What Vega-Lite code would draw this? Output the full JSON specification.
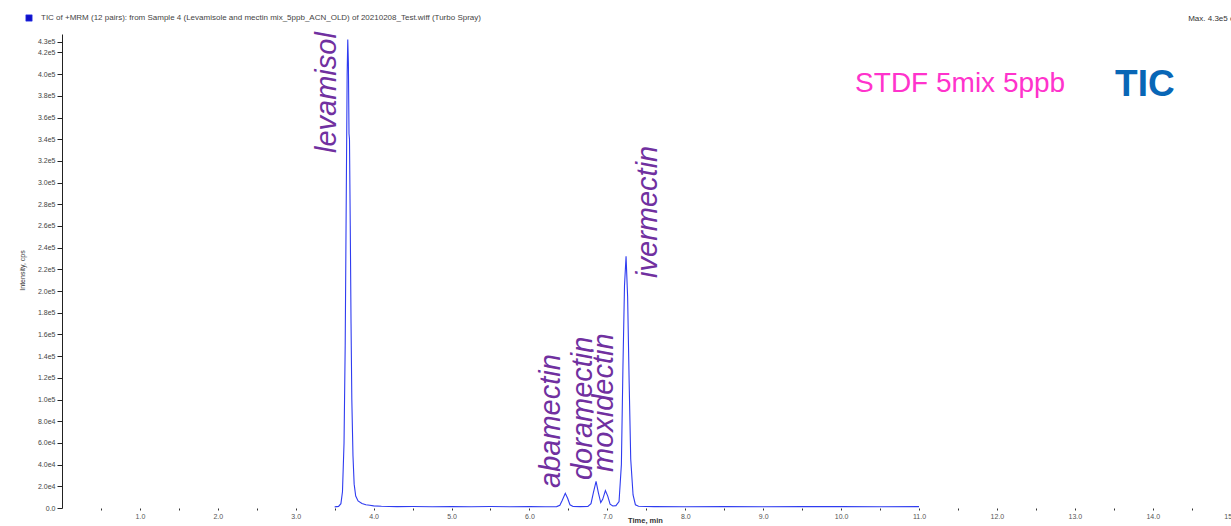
{
  "$schema": "https://vega.github.io/schema/vega-lite/v6.json",
  "autosize": "none",
  "width": 1192,
  "height": 474,
  "padding": {"left": 62, "top": 34, "right": 0, "bottom": 18},
  "background": "white",
  "config": {"view": {"stroke": null}, "font": "Liberation Sans"},
  "resolve": {"axis": {"y": "independent"}},
  "layer": [
    {
      "data": {"values": [
        {"t":3.50,"v":1000,"s":"TIC"},{"t":3.55,"v":1500,"s":"TIC"},{"t":3.58,"v":4000,"s":"TIC"},{"t":3.60,"v":15000,"s":"TIC"},
        {"t":3.62,"v":60000,"s":"TIC"},{"t":3.635,"v":150000,"s":"TIC"},{"t":3.65,"v":300000,"s":"TIC"},{"t":3.66,"v":400000,"s":"TIC"},
        {"t":3.668,"v":432000,"s":"TIC"},{"t":3.676,"v":410000,"s":"TIC"},{"t":3.684,"v":345000,"s":"TIC"},{"t":3.69,"v":340000,"s":"TIC"},
        {"t":3.70,"v":260000,"s":"TIC"},{"t":3.71,"v":170000,"s":"TIC"},{"t":3.72,"v":100000,"s":"TIC"},{"t":3.735,"v":48000,"s":"TIC"},
        {"t":3.75,"v":22000,"s":"TIC"},{"t":3.77,"v":11000,"s":"TIC"},{"t":3.80,"v":6500,"s":"TIC"},{"t":3.85,"v":4200,"s":"TIC"},
        {"t":3.90,"v":3000,"s":"TIC"},{"t":3.95,"v":2500,"s":"TIC"},{"t":4.0,"v":2000,"s":"TIC"},{"t":4.1,"v":1600,"s":"TIC"},
        {"t":4.3,"v":1300,"s":"TIC"},{"t":4.5,"v":1400,"s":"TIC"},{"t":4.75,"v":1200,"s":"TIC"},{"t":5.0,"v":1300,"s":"TIC"},
        {"t":5.25,"v":1200,"s":"TIC"},{"t":5.5,"v":1350,"s":"TIC"},{"t":5.75,"v":1200,"s":"TIC"},{"t":6.0,"v":1250,"s":"TIC"},
        {"t":6.2,"v":1200,"s":"TIC"},{"t":6.35,"v":1300,"s":"TIC"},{"t":6.39,"v":2500,"s":"TIC"},{"t":6.42,"v":7000,"s":"TIC"},
        {"t":6.46,"v":13500,"s":"TIC"},{"t":6.49,"v":9000,"s":"TIC"},{"t":6.52,"v":3000,"s":"TIC"},{"t":6.56,"v":1400,"s":"TIC"},
        {"t":6.65,"v":1300,"s":"TIC"},{"t":6.75,"v":1400,"s":"TIC"},{"t":6.79,"v":4000,"s":"TIC"},{"t":6.82,"v":14000,"s":"TIC"},
        {"t":6.855,"v":24500,"s":"TIC"},{"t":6.885,"v":14000,"s":"TIC"},{"t":6.915,"v":5000,"s":"TIC"},{"t":6.94,"v":8000,"s":"TIC"},
        {"t":6.975,"v":16000,"s":"TIC"},{"t":7.005,"v":11000,"s":"TIC"},{"t":7.035,"v":3500,"s":"TIC"},{"t":7.07,"v":1800,"s":"TIC"},
        {"t":7.11,"v":2200,"s":"TIC"},{"t":7.15,"v":6000,"s":"TIC"},{"t":7.18,"v":40000,"s":"TIC"},{"t":7.20,"v":130000,"s":"TIC"},
        {"t":7.22,"v":205000,"s":"TIC"},{"t":7.24,"v":232000,"s":"TIC"},{"t":7.26,"v":195000,"s":"TIC"},{"t":7.28,"v":115000,"s":"TIC"},
        {"t":7.30,"v":45000,"s":"TIC"},{"t":7.33,"v":12000,"s":"TIC"},{"t":7.36,"v":3000,"s":"TIC"},{"t":7.40,"v":1600,"s":"TIC"},
        {"t":7.6,"v":1300,"s":"TIC"},{"t":8.0,"v":1200,"s":"TIC"},{"t":8.5,"v":1300,"s":"TIC"},{"t":9.0,"v":1200,"s":"TIC"},
        {"t":9.5,"v":1250,"s":"TIC"},{"t":10.0,"v":1300,"s":"TIC"},{"t":10.5,"v":1200,"s":"TIC"},{"t":11.0,"v":1250,"s":"TIC"}
      ]},
      "mark": {"type": "line", "strokeWidth": 1.1, "interpolate": "linear"},
      "encoding": {
        "x": {"field": "t", "type": "quantitative",
          "scale": {"domain": [0, 15.3], "nice": false, "zero": false},
          "axis": {
            "title": "Time, min", "titleFontSize": 7.5, "titleFontWeight": "bold", "titleColor": "#333",
            "titleX": 583, "titleY": 12, "titleAlign": "center", "titleBaseline": "middle",
            "domain": false, "grid": false,
            "values": [0.5,1,1.5,2,2.5,3,3.5,4,4.5,5,5.5,6,6.5,7,7.5,8,8.5,9,9.5,10,10.5,11,11.5,12,12.5,13,13.5,14,14.5,15],
            "labelExpr": "datum.value % 1 == 0 ? format(datum.value, '.1f') : ''",
            "labelFontSize": 7, "labelColor": "#555", "labelPadding": 2, "labelOverlap": false,
            "tickColor": "#333", "tickSize": 2, "tickWidth": 1
          }
        },
        "y": {"field": "v", "type": "quantitative",
          "scale": {"domain": [0, 437000], "nice": false},
          "axis": {
            "title": "Intensity, cps", "titleFontSize": 7, "titleColor": "#333", "titleFontWeight": "normal",
            "titleX": -40, "titleY": 236, "titleAngle": -90, "titleAlign": "center", "titleBaseline": "middle",
            "grid": false, "domainColor": "#222", "domainWidth": 1,
            "values": [0,20000,40000,60000,80000,100000,120000,140000,160000,180000,200000,220000,240000,260000,280000,300000,320000,340000,360000,380000,400000,420000,430000],
            "labelExpr": "datum.value == 0 ? '0.0' : replace(format(datum.value, '.1e'), '+', '')",
            "labelFontSize": 7, "labelColor": "#444", "labelPadding": 2, "labelOverlap": false,
            "tickColor": "#222", "tickSize": 5
          }
        },
        "color": {"field": "s", "type": "nominal",
          "scale": {"range": ["#2f3cf0"]},
          "legend": {
            "orient": "none", "legendX": -37, "legendY": -20, "title": null,
            "symbolType": "square", "symbolSize": 40, "symbolFillColor": "#1010c8", "symbolStrokeColor": "#000040", "symbolStrokeWidth": 0.6,
            "labelFontSize": 8, "labelColor": "#444", "labelLimit": 0, "labelOffset": 8,
            "labelExpr": "'TIC of +MRM (12 pairs): from Sample 4 (Levamisole and mectin mix_5ppb_ACN_OLD) of 20210208_Test.wiff (Turbo Spray)'"
          }
        }
      }
    },
    {
      "data": {"values": [
        {"t": 3.402, "v": 327300, "label": "levamisol"},
        {"t": 6.277, "v": 18440, "label": "abamectin"},
        {"t": 6.688, "v": 25800, "label": "doramectin"},
        {"t": 6.958, "v": 33200, "label": "moxidectin"},
        {"t": 7.522, "v": 212100, "label": "ivermectin"}
      ]},
      "mark": {"type": "text", "angle": 270, "align": "left", "baseline": "middle", "fontSize": 29, "fontStyle": "italic", "font": "Liberation Sans", "color": "#7030a0"},
      "encoding": {
        "x": {"field": "t", "type": "quantitative"},
        "y": {"field": "v", "type": "quantitative",
          "axis": {"title": null, "labels": false, "domain": false, "grid": false, "tickColor": "#222", "tickSize": 3,
            "values": [10000,30000,50000,70000,90000,110000,130000,150000,170000,190000,210000,230000,250000,270000,290000,310000,330000,350000,370000,390000,410000]}},
        "text": {"field": "label"}
      }
    },
    {
      "data": {"values": [{"t": 10.18, "v": 383600, "label": "STDF 5mix 5ppb"}]},
      "mark": {"type": "text", "align": "left", "baseline": "alphabetic", "fontSize": 28, "font": "Liberation Sans", "color": "#ff33cc"},
      "encoding": {
        "x": {"field": "t", "type": "quantitative"},
        "y": {"field": "v", "type": "quantitative", "axis": null},
        "text": {"field": "label"}
      }
    },
    {
      "data": {"values": [{"t": 13.517, "v": 379900, "label": "TIC"}]},
      "mark": {"type": "text", "align": "left", "baseline": "alphabetic", "fontSize": 37, "fontWeight": "bold", "font": "Liberation Sans", "color": "#0866b6"},
      "encoding": {
        "x": {"field": "t", "type": "quantitative"},
        "y": {"field": "v", "type": "quantitative", "axis": null},
        "text": {"field": "label"}
      }
    },
    {
      "data": {"values": [{"t": 14.455, "v": 450900, "label": "Max. 4.3e5 cps"}]},
      "mark": {"type": "text", "align": "left", "baseline": "middle", "fontSize": 8, "font": "Liberation Sans", "color": "#333"},
      "encoding": {
        "x": {"field": "t", "type": "quantitative"},
        "y": {"field": "v", "type": "quantitative", "axis": null},
        "text": {"field": "label"}
      }
    }
  ]
}
